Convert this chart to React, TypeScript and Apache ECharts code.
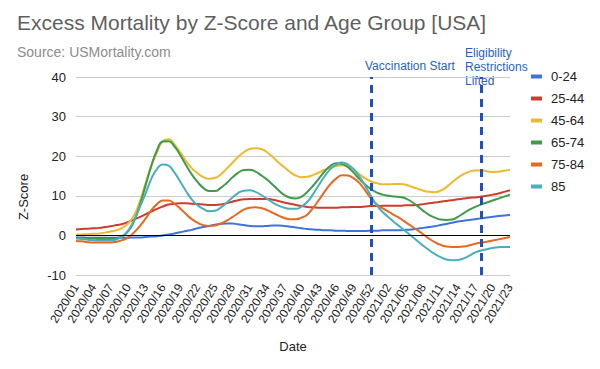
import React, { useEffect, useRef } from "react";
import * as echarts from "echarts";

const weeks2020 = 53;
const weeks2021 = 23;
const categories: string[] = [];
for (let w = 1; w <= weeks2020; w++) categories.push("2020/" + String(w).padStart(2, "0"));
for (let w = 1; w <= weeks2021; w++) categories.push("2021/" + String(w).padStart(2, "0"));

const seriesNames = ["0-24", "25-44", "45-64", "65-74", "75-84", "85"];
const seriesColors = ["#3f73d9", "#cc3d2e", "#efb92f", "#3e9b4a", "#e8681f", "#4aaebd"];

const age0_24 = [
  -0.5, -0.5, -0.6, -0.6, -0.6, -0.6, -0.6, -0.6, -0.6, -0.6,
  -0.5, -0.5, -0.4, -0.3, -0.2, 0, 0.2, 0.5, 0.8, 1.1,
  1.4, 1.8, 2.1, 2.4, 2.7, 2.9, 3.0, 3.0, 2.8, 2.6,
  2.4, 2.3, 2.3, 2.4, 2.5, 2.5, 2.4, 2.2, 2.0, 1.8,
  1.6, 1.5, 1.4, 1.3, 1.3, 1.2, 1.2, 1.1, 1.1, 1.1,
  1.1, 1.2, 1.2, 1.3, 1.3, 1.3, 1.3, 1.4, 1.5, 1.7,
  1.9, 2.1, 2.3, 2.6, 2.9, 3.2, 3.5, 3.7, 3.9, 4.1,
  4.3, 4.5, 4.7, 4.9, 5.0, 5.2,
];
const age25_44 = [
  1.5, 1.6, 1.7, 1.8, 1.9, 2.1, 2.3, 2.6, 2.9, 3.4,
  4.0, 4.6, 5.3, 6.0, 6.7, 7.3, 7.8, 8.0, 8.1, 8.1,
  8.0, 7.9, 7.8, 7.7, 7.7, 7.8, 8.1, 8.5, 8.9, 9.1,
  9.2, 9.2, 9.2, 9.2, 9.0, 8.7, 8.3, 8.0, 7.7, 7.4,
  7.2, 7.1, 7.0, 7.0, 7.0, 7.0, 7.1, 7.1, 7.2, 7.2,
  7.3, 7.4, 7.4, 7.5, 7.5, 7.5, 7.5, 7.6, 7.6, 7.7,
  7.9, 8.1, 8.3, 8.5, 8.7, 8.9, 9.1, 9.3, 9.5, 9.6,
  9.8, 10.0, 10.3, 10.6, 11.0, 11.4,
];
const age45_64 = [
  0.2, 0.25, 0.3, 0.4, 0.5, 0.7, 1.0, 1.3, 1.9, 3.0,
  5.0, 8.5, 13.0, 17.5, 21.0, 23.8, 24.3, 23.0, 21.0, 18.8,
  17.0, 15.7, 14.7, 14.3, 14.5, 15.4, 16.8, 18.3, 19.8, 21.0,
  21.8, 22.0, 21.8, 21.0, 19.8, 18.4, 17.2, 16.0, 15.1, 14.7,
  14.8, 15.3, 15.9, 16.6, 17.1, 17.5, 17.7, 17.4, 16.5, 15.4,
  14.4, 13.6, 13.2, 12.9, 12.9, 13.0, 13.0, 12.8, 12.3, 11.8,
  11.3, 11.0, 10.9, 11.3, 12.2, 13.4, 14.6, 15.5, 16.1, 16.4,
  16.4, 16.2, 16.0, 16.1, 16.3, 16.6,
];
const age65_74 = [
  -0.6, -0.7, -0.8, -0.8, -0.9, -0.9, -0.9, -0.7, -0.2, 1.0,
  3.5, 7.5, 12.5, 17.5, 21.5, 23.7, 23.8, 22.5, 20.3, 17.8,
  15.4, 13.5, 12.0, 11.2, 11.2, 12.0, 13.2, 14.6, 15.8, 16.5,
  16.6, 16.1, 15.2, 14.1, 12.8, 11.4, 10.2, 9.5, 9.3, 9.8,
  11.0, 12.6, 14.4, 16.2, 17.6, 18.2, 18.0, 17.2, 15.8, 14.2,
  12.8, 11.7, 10.8, 10.3, 10.0, 9.8, 9.7, 9.3, 8.5, 7.4,
  6.2, 5.2, 4.5, 4.0, 3.9, 4.0, 4.7, 5.6, 6.5, 7.2,
  7.8, 8.3, 8.8, 9.3, 9.8, 10.3,
];
const age75_84 = [
  -1.4, -1.5, -1.7, -1.8, -1.8, -1.8, -1.8, -1.6, -1.2, -0.5,
  0.7, 2.3, 4.2, 6.3, 7.9, 8.8, 8.8, 8.0, 6.8, 5.4,
  4.1, 3.2, 2.6, 2.4, 2.5, 3.0, 3.7, 4.6, 5.6, 6.5,
  7.0, 7.1, 6.9, 6.4, 5.7, 5.0, 4.4, 4.1, 4.1, 4.5,
  5.3, 7.0, 9.0, 11.1, 13.0, 14.4, 15.2, 15.1, 14.4, 13.2,
  11.3, 9.3, 7.8, 6.8, 6.0, 5.1, 4.3, 3.3, 2.3, 1.3,
  0.3, -0.8, -1.7, -2.4, -2.8, -2.9, -2.9, -2.8, -2.5, -2.1,
  -1.8, -1.6, -1.3, -1.0, -0.7, -0.4,
];
const age85 = [
  -0.8, -0.9, -1.1, -1.2, -1.3, -1.3, -1.3, -1.0, -0.3, 1.2,
  3.8, 7.0, 10.5, 14.2, 16.8, 17.9, 17.6, 15.9, 13.6, 11.2,
  9.1, 7.6, 6.7, 6.1, 6.2, 7.0, 8.2, 9.5, 10.7, 11.3,
  11.4, 11.0, 10.2, 9.3, 8.3, 7.5, 7.0, 6.7, 6.7, 7.3,
  8.5, 10.5, 12.8, 15.0, 16.8, 17.9, 18.4, 17.9, 16.7, 14.8,
  12.5, 9.9, 7.5, 5.9, 4.6, 3.3, 2.2, 1.0, -0.2, -1.4,
  -2.6, -3.7, -4.7, -5.5, -6.1, -6.3, -6.2, -5.8, -5.1, -4.3,
  -3.8, -3.5, -3.2, -3.0, -2.9, -2.9,
];
const seriesValues = [age0_24, age25_44, age45_64, age65_74, age75_84, age85];

const yMin = -10;
const yMax = 40;
const yInterval = 10;

const eventWeeks = ["2020/52", "2021/18"];

const FONT = "'Liberation Sans', Arial, Helvetica, sans-serif";

export default function App() {
  const ref = useRef<HTMLDivElement>(null);
  useEffect(() => {
    if (!ref.current) return;
    document.body.style.margin = "0";
    const chart = echarts.init(ref.current, null, { renderer: "svg" });
    const series: any[] = seriesNames.map((name, i) => ({
      name,
      type: "line",
      data: seriesValues[i],
      smooth: true,
      showSymbol: false,
      symbol: "none",
      lineStyle: { width: 2, color: seriesColors[i] },
      itemStyle: { color: seriesColors[i] },
      z: 3,
    }));
    series[0].markLine = {
      silent: true,
      symbol: "none",
      label: { show: false },
      animation: false,
      data: [
        { yAxis: 0, lineStyle: { color: "#000", type: "solid", width: 1 } },
        ...eventWeeks.map((w) => ({
          xAxis: w,
          lineStyle: { color: "#1f50c0", type: [8, 6], width: 3 },
        })),
      ],
    };
    chart.setOption({
      animation: false,
      textStyle: { fontFamily: FONT },
      grid: { left: 76, right: 90, top: 77, bottom: 94 },
      legend: {
        orient: "vertical",
        left: 531,
        top: 70,
        icon: "rect",
        itemWidth: 11,
        itemHeight: 4,
        itemGap: 9,
        padding: 0,
        selectedMode: false,
        textStyle: { fontSize: 13, color: "#222", lineHeight: 13, padding: [0, 0, 0, 4], fontFamily: FONT },
        data: seriesNames,
      },
      xAxis: {
        type: "category",
        data: categories,
        boundaryGap: false,
        axisLine: { show: false },
        axisTick: { show: false },
        splitLine: { show: false },
        axisLabel: {
          interval: 2,
          rotate: 58,
          fontSize: 12,
          color: "#222",
          margin: 10,
          fontFamily: FONT,
        },
      },
      yAxis: {
        type: "value",
        min: yMin,
        max: yMax,
        interval: yInterval,
        axisLine: { show: false },
        axisTick: { show: false },
        axisLabel: { fontSize: 13, color: "#222", margin: 10, fontFamily: FONT },
        splitLine: { lineStyle: { color: "#cccccc", width: 1 } },
      },
      series,
      graphic: [
        {
          type: "text",
          left: 17,
          top: 12,
          style: { text: "Excess Mortality by Z-Score and Age Group [USA]", fontSize: 21, fill: "#5f5f5f", fontFamily: FONT },
        },
        {
          type: "text",
          left: 17,
          top: 45,
          style: { text: "Source: USMortality.com", fontSize: 14, fill: "#8c8c8c", fontFamily: FONT },
        },
        {
          type: "text",
          x: 365,
          y: 66,
          style: { text: "Vaccination Start", fontSize: 12, fill: "#2b5fbf", fontFamily: FONT, verticalAlign: "middle" },
        },
        {
          type: "text",
          x: 465,
          y: 67,
          style: {
            text: "Eligibility\nRestrictions\nLifted",
            fontSize: 12,
            lineHeight: 14,
            fill: "#2b5fbf",
            fontFamily: FONT,
            verticalAlign: "middle",
          },
        },
        {
          type: "text",
          x: 23,
          y: 197,
          rotation: Math.PI / 2,
          style: { text: "Z-Score", fontSize: 13, fill: "#222", fontFamily: FONT, align: "center", verticalAlign: "middle" },
        },
        {
          type: "text",
          x: 293,
          y: 346,
          style: { text: "Date", fontSize: 13, fill: "#222", fontFamily: FONT, align: "center", verticalAlign: "middle" },
        },
      ],
    });
    return () => chart.dispose();
  }, []);
  return <div ref={ref} style={{ width: 600, height: 369 }} />;
}
